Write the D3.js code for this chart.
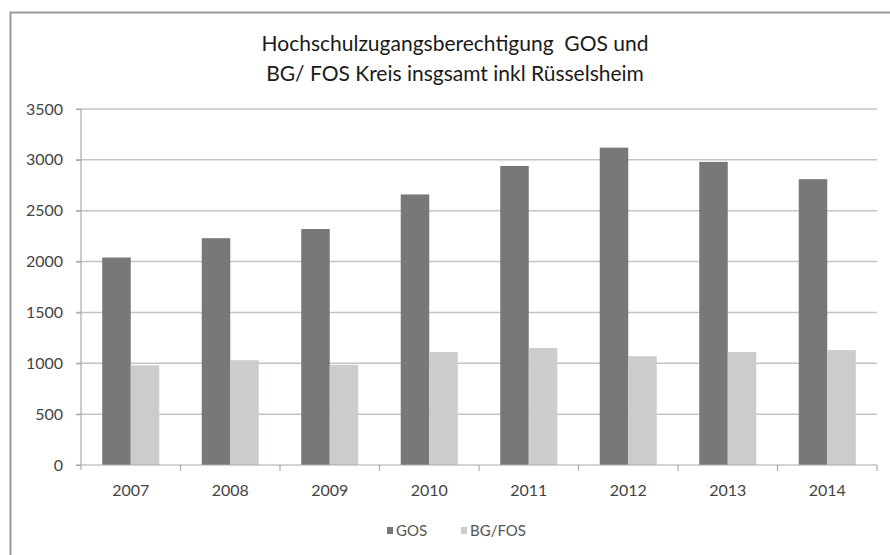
<!DOCTYPE html>
<html>
<head>
<meta charset="utf-8">
<script src="https://cdn.jsdelivr.net/npm/d3@7"></script>
<style>
  body { margin: 0; background: #fff; }
  text { font-family: Lato, "Open Sans", sans-serif; }
</style>
</head>
<body>
<svg width="890" height="555"></svg>
<script>
var years = ["2007", "2008", "2009", "2010", "2011", "2012", "2013", "2014"];
var seriesNames = ["GOS", "BG/FOS"];
var gosValues = [2040, 2230, 2320, 2660, 2940, 3120, 2980, 2810];
var bgfosValues = [980, 1030, 985, 1110, 1150, 1070, 1110, 1130];
var yTicks = [0, 500, 1000, 1500, 2000, 2500, 3000, 3500];
var titleLines = ["Hochschulzugangsberechtigung  GOS und", "BG/ FOS Kreis insgsamt inkl Rüsselsheim"];

var colors = { "GOS": "#77787a", "BG/FOS": "#cbcccd" };

var margin = { left: 81, top: 109, right: 13, bottom: 90 };
var width = 890, height = 555;

var svg = d3.select("svg");

// outer frame
svg.append("rect")
  .attr("x", 10.5).attr("y", 12.5)
  .attr("width", 900).attr("height", 560)
  .attr("fill", "none")
  .attr("stroke", "#9a9a9a")
  .attr("stroke-width", 2);

var xScale = d3.scaleBand().domain(years).range([margin.left, width - margin.right]);
var xSub = d3.scaleBand().domain(seriesNames).range([0, xScale.bandwidth()]).paddingOuter(0.745);
var yScale = d3.scaleLinear().domain([0, 3500]).range([height - margin.bottom, margin.top]);

// gridlines
svg.append("g")
  .selectAll("line").data(yTicks.slice(1))
  .enter().append("line")
  .attr("x1", margin.left - 5).attr("x2", width - margin.right)
  .attr("y1", function(d) { return yScale(d); })
  .attr("y2", function(d) { return yScale(d); })
  .attr("stroke", "#c4c4c4").attr("stroke-width", 1.5);

// y axis
var yAxis = d3.axisLeft(yScale).tickValues(yTicks).tickSize(5).tickPadding(13).tickFormat(d3.format("d"));
var yg = svg.append("g")
  .attr("transform", "translate(" + margin.left + ",0)")
  .call(yAxis);
yg.select(".domain").remove();
yg.append("line")
  .attr("x1", 0).attr("x2", 0)
  .attr("y1", yScale(3500)).attr("y2", yScale(0) + 5)
  .attr("stroke", "#aaa").attr("stroke-width", 1.2);
yg.selectAll(".tick line").attr("stroke", "#aaa").attr("stroke-width", 1.2);
yg.selectAll(".tick text")
  .attr("fill", "#444")
  .style("font-size", "16px")
  .style("font-family", "Lato, sans-serif");

// bars
var rows = years.map(function(y, i) {
  return { year: y, values: [ { key: "GOS", value: gosValues[i] }, { key: "BG/FOS", value: bgfosValues[i] } ] };
});

svg.append("g")
  .selectAll("g").data(rows)
  .enter().append("g")
  .attr("transform", function(d) { return "translate(" + xScale(d.year) + ",0)"; })
  .selectAll("rect").data(function(d) { return d.values; })
  .enter().append("rect")
  .attr("x", function(d) { return xSub(d.key); })
  .attr("width", xSub.bandwidth())
  .attr("y", function(d) { return yScale(d.value); })
  .attr("height", function(d) { return yScale(0) - yScale(d.value); })
  .attr("fill", function(d) { return colors[d.key]; });

// x axis
var xg = svg.append("g").attr("transform", "translate(0," + yScale(0) + ")");
xg.append("line")
  .attr("x1", margin.left - 5).attr("x2", width - margin.right)
  .attr("y1", 0).attr("y2", 0)
  .attr("stroke", "#aaa").attr("stroke-width", 1.2);
xg.selectAll("line.tk").data(years)
  .enter().append("line").attr("class", "tk")
  .attr("x1", function(d) { return xScale(d) + xScale.bandwidth(); })
  .attr("x2", function(d) { return xScale(d) + xScale.bandwidth(); })
  .attr("y1", 0).attr("y2", 6)
  .attr("stroke", "#aaa").attr("stroke-width", 1.2);
xg.selectAll("text").data(years)
  .enter().append("text")
  .attr("x", function(d) { return xScale(d) + xScale.bandwidth() / 2; })
  .attr("y", 31)
  .attr("text-anchor", "middle")
  .attr("fill", "#444")
  .style("font-size", "16px")
  .text(function(d) { return d; });

// title
svg.append("g").selectAll("text").data(titleLines)
  .enter().append("text")
  .attr("x", 455)
  .attr("y", function(d, i) { return 51 + i * 30; })
  .attr("text-anchor", "middle")
  .attr("fill", "#1a1a1a")
  .style("font-size", "21px")
  .style("white-space", "pre")
  .text(function(d) { return d; });

// legend
var legendX = [387, 461];
var lg = svg.append("g").selectAll("g").data(seriesNames)
  .enter().append("g")
  .attr("transform", function(d, i) { return "translate(" + legendX[i] + ",527)"; });
lg.append("rect")
  .attr("width", 6).attr("height", 7)
  .attr("fill", function(d) { return colors[d]; });
lg.append("text")
  .attr("x", 9).attr("y", 8.5)
  .attr("fill", "#555")
  .style("font-size", "15px")
  .text(function(d) { return d; });
</script>
</body>
</html>
